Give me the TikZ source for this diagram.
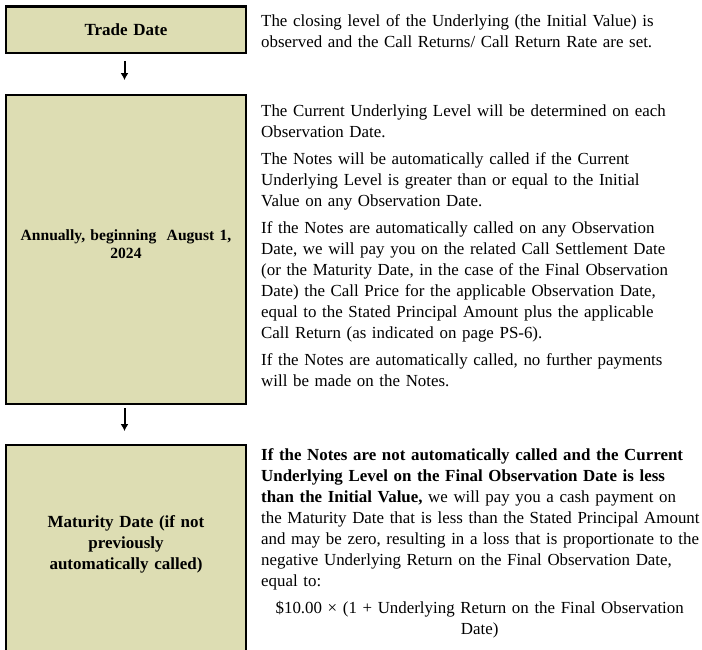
\documentclass[tikz,border=0pt]{standalone}
\usepackage{fontspec}
\setmainfont{Liberation Serif}
\usetikzlibrary{arrows.meta}
\definecolor{stagefill}{RGB}{221,221,179}

\begin{document}
\begin{tikzpicture}[x=1pt, y=-1pt,
  every node/.style={font=\fontsize{16.9}{21}\selectfont},
  stage/.style={draw=black, line width=2.2pt, fill=stagefill,
    minimum width=239.8pt, inner sep=0pt, anchor=north},
  stage label/.style={font=\fontsize{17}{21}\selectfont\bfseries,
    align=center, text width=236pt, inner sep=0pt},
  detail/.style={anchor=base west, inner sep=0pt, text width=470pt, align=left},
  flow/.style={-{Latex[length=7pt,width=8pt]}, line width=2pt}
]
\useasboundingbox (0,0) rectangle (702,650);

% stages on the left
\node[stage, stage label, minimum height=46.2pt] (trade) at (126,5.4) {Trade Date};
\node[stage, minimum height=308.8pt] (annual) at (126,94.1) {};
\node[stage label, font=\fontsize{15.6}{18}\selectfont\bfseries] (annualLabel)
  at (126,244) {Annually, beginning~ August 1,\\ 2024};
% last box runs off the page
\node[stage, minimum height=220pt] (maturity) at (126,444.1) {};
\node[stage label] (maturityLabel) at (126,544)
  {Maturity Date (if not\\ previously\\ automatically called)};

% arrows between the stages
\draw[flow, shorten <=7pt, shorten >=14pt]
  ([xshift=-1.5pt]trade.south) -- ([xshift=-1.5pt]annual.north);
\draw[flow, shorten <=3pt, shorten >=13pt]
  ([xshift=-1.5pt]annual.south) -- ([xshift=-1.5pt]maturity.north);

% text on the right
\node[detail] (tradeText) at (261,27)
  {The closing level of the Underlying (the Initial Value) is\\
   observed and the Call Returns/ Call Return Rate are set.};
\node[detail] (annualText) at (261,117)
  {The Current Underlying Level will be determined on each\\
   Observation Date.\\[6pt]
   The Notes will be automatically called if the Current\\
   Underlying Level is greater than or equal to the Initial\\
   Value on any Observation Date.\\[6pt]
   If the Notes are automatically called on any Observation\\
   Date, we will pay you on the related Call Settlement Date\\
   (or the Maturity Date, in the case of the Final Observation\\
   Date) the Call Price for the applicable Observation Date,\\
   equal to the Stated Principal Amount plus the applicable\\
   Call Return (as indicated on page PS-6).\\[6pt]
   If the Notes are automatically called, no further payments\\
   will be made on the Notes.};
\node[detail] (maturityText) at (261,460)
  {\textbf{If the Notes are not automatically called and the Current}\\
   \textbf{Underlying Level on the Final Observation Date is less}\\
   \textbf{than the Initial Value,} we will pay you a cash payment on\\
   the Maturity Date that is less than the Stated Principal Amount\\
   and may be zero, resulting in a loss that is proportionate to the\\
   negative Underlying Return on the Final Observation Date,\\
   equal to:};
\node[detail, text width=437pt, align=center] (payoff) at (261,613)
  {\$10.00 × (1 + Underlying Return on the Final Observation\\ Date)};
\end{tikzpicture}
\end{document}
